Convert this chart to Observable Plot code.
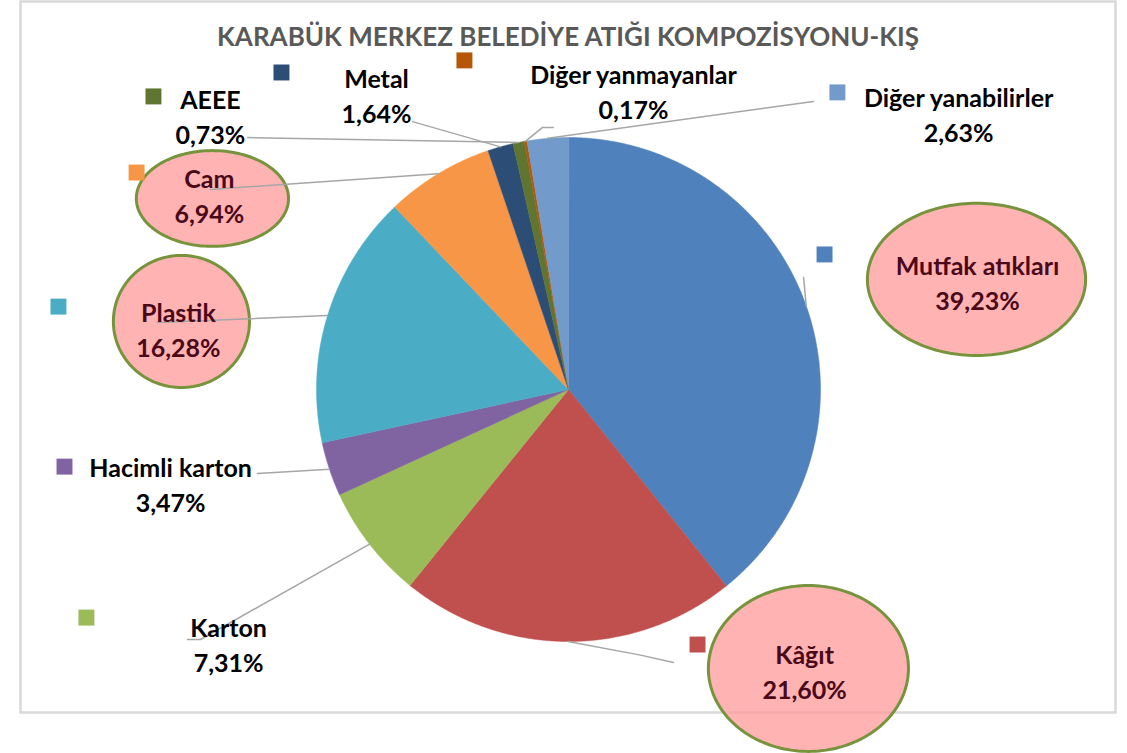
<!DOCTYPE html>
<html><head><meta charset="utf-8">
<script src="https://cdn.jsdelivr.net/npm/d3@7"></script>
<script src="https://cdn.jsdelivr.net/npm/@observablehq/plot@0.6"></script>
<style>body{margin:0;background:#fff} #chart svg{display:block}</style>
</head><body><div id="chart"></div>
<script>
// ---- data ----
const title = "KARABÜK MERKEZ BELEDİYE ATIĞI KOMPOZİSYONU-KIŞ";
const categories = ["Mutfak atıkları","Kâğıt","Karton","Hacimli karton","Plastik","Cam","Metal","AEEE","Diğer yanmayanlar","Diğer yanabilirler"];
const values = [39.23, 21.60, 7.31, 3.47, 16.28, 6.94, 1.64, 0.73, 0.17, 2.63];
const valueLabels = ["39,23%","21,60%","7,31%","3,47%","16,28%","6,94%","1,64%","0,73%","0,17%","2,63%"];
const colors = ["#4F81BD","#C0504D","#9BBB59","#8064A2","#4BACC6","#F79646","#2C4D75","#5F7530","#B65708","#729ACA"];
const highlighted = [true, true, false, false, true, true, false, false, false, false];

// ---- layout (in pie-radius units, centre = 0,0) ----
const labelPos = [[1.623,0.429],[0.937,-1.115],[-1.349,-1.008],[-1.579,-0.373],[-1.548,0.242],[-1.425,0.774],[-0.762,1.171],[-1.421,1.087],[0.258,1.187],[1.548,1.095]];
const keyPos = [[1.016,0.536],[0.512,-1.012],[-1.913,-0.905],[-2.0,-0.306],[-2.024,0.329],[-1.714,0.861],[-1.139,1.258],[-1.647,1.163],[-0.413,1.306],[1.067,1.179]];
const leaderEnds = [
  [[0.933,0.444]],
  [[0.286,-1.054],[0.417,-1.083]],
  [[-1.460,-0.992],[-1.512,-0.992]],
  [[-1.234,-0.333]],
  [[-1.631,0.266]],
  [[-1.421,0.794]],
  [[-0.619,1.063]],
  [[-1.274,1.0]],
  [[-0.103,1.040],[-0.060,1.040]],
  [[0.972,1.143]]
];
const ellipses = [
  {i:0, cx:1.619, cy:0.437, rx:0.433, ry:0.302},
  {i:1, cx:0.952, cy:-1.107, rx:0.397, ry:0.329},
  {i:5, cx:-1.413, cy:0.758, rx:0.302, ry:0.190},
  {i:4, cx:-1.536, cy:0.270, rx:0.270, ry:0.262}
];

// ---- derived geometry ----
const arcs = d3.pie().sort(null).value(d => d)(values);
const slicePts = [];
arcs.forEach((a, i) => {
  slicePts.push({i, x: 0, y: 0});
  const n = Math.max(2, Math.ceil((a.endAngle - a.startAngle) / 0.005));
  for (let k = 0; k <= n; k++) {
    const t = a.startAngle + (a.endAngle - a.startAngle) * k / n;
    slicePts.push({i, x: Math.sin(t), y: Math.cos(t)});
  }
});
const leaderPts = [];
arcs.forEach((a, i) => {
  const m = (a.startAngle + a.endAngle) / 2;
  leaderPts.push({i, x: Math.sin(m), y: Math.cos(m)});
  leaderEnds[i].forEach(p => leaderPts.push({i, x: p[0], y: p[1]}));
});
const ellPts = [];
ellipses.forEach(e => {
  for (let k = 0; k < 180; k++) {
    const t = 2 * Math.PI * k / 180;
    ellPts.push({i: e.i, x: e.cx + e.rx * Math.cos(t), y: e.cy + e.ry * Math.sin(t)});
  }
});
const idx = d3.range(categories.length);

const chart = Plot.plot({
  width: 1127, height: 753,
  marginLeft: 20, marginRight: 12, marginTop: 1, marginBottom: 41,
  x: {domain: [-2.1746, 2.1706], axis: null},
  y: {domain: [-1.2817, 1.5397], axis: null},
  style: {fontFamily: "Lato, 'Open Sans', sans-serif", background: "#fff"},
  marks: [
    Plot.frame({stroke: "#d9d9d9", strokeWidth: 2.5}),
    Plot.line(slicePts, {x: "x", y: "y", z: "i", fill: d => colors[d.i], stroke: d => colors[d.i], strokeWidth: 0.5, curve: "linear-closed"}),
    Plot.line(ellPts, {x: "x", y: "y", z: "i", fill: "#ff9a9a", fillOpacity: 0.75, stroke: "#77933C", strokeWidth: 3, curve: "linear-closed"}),
    Plot.line(leaderPts, {x: "x", y: "y", z: "i", stroke: "#a6a6a6", strokeWidth: 1.5}),
    Plot.dot(idx, {x: i => keyPos[i][0], y: i => keyPos[i][1], symbol: "square", r: 9, fill: i => colors[i], stroke: "none"}),
    Plot.text(idx, {x: i => labelPos[i][0], y: i => labelPos[i][1], text: i => categories[i] + "\n" + valueLabels[i],
      lineHeight: 1.38, fontSize: 25, fontWeight: "bold", textAnchor: "middle", lineAnchor: "middle",
      fill: i => highlighted[i] ? "#4a0818" : "#000"}),
    Plot.text([title], {frameAnchor: "top", dy: 36, fontSize: 26, fontWeight: "bold", fill: "#595959", lineAnchor: "middle"})
  ]
});
document.getElementById("chart").append(chart);
</script>
</body></html>
